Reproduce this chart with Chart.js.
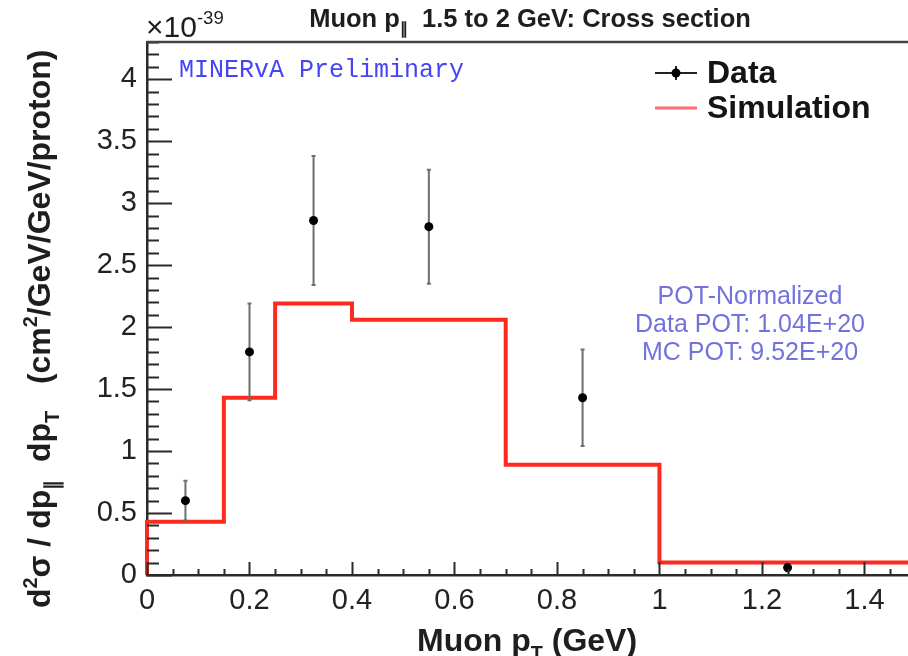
<!DOCTYPE html>
<html>
<head>
<meta charset="utf-8">
<script src="https://cdn.jsdelivr.net/npm/chart.js@4.4.0/dist/chart.umd.min.js"></script>
<style>
  html, body { margin: 0; padding: 0; background: #fff; }
  #wrap { width: 908px; height: 656px; position: relative; }
</style>
</head>
<body>
<div id="wrap"><canvas id="chart"></canvas></div>
<script>
// bin edges (GeV) and simulated cross section per bin (x1e-39)
const binEdges = [0, 0.15, 0.25, 0.4, 0.7, 1.0, 1.5];
const simValues = [0.43, 1.43, 2.19, 2.06, 0.89, 0.10];

// measured points
const dataX = [0.075, 0.2, 0.325, 0.55, 0.85, 1.25];
const dataY = [0.60, 1.80, 2.86, 2.81, 1.43, 0.06];
const dataErr = [0.16, 0.39, 0.52, 0.46, 0.39, 0.03];

const xTicks = [0, 0.2, 0.4, 0.6, 0.8, 1, 1.2, 1.4];
const yTicks = [0, 0.5, 1, 1.5, 2, 2.5, 3, 3.5, 4];
const potLines = ["POT-Normalized", "Data POT: 1.04E+20", "MC POT: 9.52E+20"];

const FONT = "'Liberation Sans', Arial, Helvetica, sans-serif";
const X_MAX = 1.485; // picture is cut just before the 1.5 edge
const Y_MAX = 4.3;

// step line through the bin edges, starting from zero at x=0
const simPoints = [{ x: binEdges[0], y: 0 }]
  .concat(simValues.map((v, i) => ({ x: binEdges[i], y: v })))
  .concat([{ x: binEdges[binEdges.length - 1], y: simValues[simValues.length - 1] }]);
const dataPoints = dataX.map((x, i) => ({ x, y: dataY[i] }));

// text with sub/superscripts: parts = [[text, mode]]
function richWidth(ctx, parts, size, weight) {
  let w = 0;
  parts.forEach(([t, m]) => {
    const s = m === "n" ? size : size * 0.62;
    ctx.font = `${weight} ${s}px ${FONT}`;
    w += ctx.measureText(t).width;
  });
  return w;
}
function drawRich(ctx, parts, x, y, size, weight) {
  parts.forEach(([t, m]) => {
    const s = m === "n" ? size : size * 0.62;
    const dy = m === "sub" ? size * 0.28 : m === "sup" ? -size * 0.42 : 0;
    ctx.font = `${weight} ${s}px ${FONT}`;
    ctx.fillText(t, x, y + dy);
    x += ctx.measureText(t).width;
  });
}

const rootFrame = {
  id: "rootFrame",
  beforeDatasetDraw(chart, args) {
    if (args.index !== 1) return;
    const { ctx, scales: { x, y } } = chart;
    ctx.save();
    ctx.strokeStyle = "#6e6e6e";
    ctx.lineWidth = 2;
    dataX.forEach((v, i) => {
      const px = x.getPixelForValue(v);
      const top = y.getPixelForValue(dataY[i] + dataErr[i]);
      const bot = y.getPixelForValue(dataY[i] - dataErr[i]);
      ctx.beginPath();
      ctx.moveTo(px, top); ctx.lineTo(px, bot);
      ctx.moveTo(px - 2, top); ctx.lineTo(px + 2, top);
      ctx.moveTo(px - 2, bot); ctx.lineTo(px + 2, bot);
      ctx.stroke();
    });
    ctx.restore();
  },
  afterDraw(chart) {
    const { ctx, chartArea: a, scales: { x, y } } = chart;
    ctx.save();
    ctx.strokeStyle = "#2a2a2a";
    ctx.lineWidth = 2;

    // inward ticks
    ctx.beginPath();
    for (let k = 0; k / 10 <= Y_MAX; k++) {
      const py = Math.round(y.getPixelForValue(k / 10)) + 0.5;
      const len = k % 5 === 0 ? 25 : 12;
      ctx.moveTo(a.left, py); ctx.lineTo(a.left + len, py);
    }
    for (let k = 0; k * 0.05 <= X_MAX; k++) {
      const px = Math.round(x.getPixelForValue(k * 0.05)) + 0.5;
      const len = k % 4 === 0 ? 13 : 6;
      ctx.moveTo(px, a.bottom); ctx.lineTo(px, a.bottom - len);
    }
    ctx.stroke();

    // top frame
    ctx.strokeStyle = "#444";
    ctx.lineWidth = 2.5;
    ctx.beginPath();
    ctx.moveTo(a.left, a.top); ctx.lineTo(a.right, a.top);
    ctx.stroke();

    ctx.fillStyle = "#1e1e1e";
    ctx.textBaseline = "alphabetic";

    // title
    const title = [["Muon p", "n"], ["\u2225", "sub"], ["  1.5 to 2 GeV: Cross section", "n"]];
    const tw = richWidth(ctx, title, 25.5, "bold");
    drawRich(ctx, title, 530 - tw / 2, 27, 25.5, "bold");

    // exponent
    drawRich(ctx, [["\u00d710", "n"], ["-39", "sup"]], 146, 37, 30, "normal");

    // x title
    drawRich(ctx, [["Muon p", "n"], ["T", "sub"], [" (GeV)", "n"]], 417, 651, 32, "bold");

    // y title
    ctx.save();
    ctx.translate(50, 608);
    ctx.rotate(-Math.PI / 2);
    drawRich(ctx, [["d", "n"], ["2", "sup"], ["\u03c3 / dp", "n"], ["\u2225", "sub"], ["  dp", "n"], ["T", "sub"],
      ["   (cm", "n"], ["2", "sup"], ["/GeV/GeV/proton)", "n"]], 0, 0, 32, "bold");
    ctx.restore();

    // MINERvA label
    ctx.fillStyle = "#4545f5";
    ctx.font = "25px 'Liberation Mono', 'DejaVu Sans Mono', monospace";
    ctx.textBaseline = "middle";
    ctx.fillText("MINERvA Preliminary", 179, 70);

    // POT box
    ctx.fillStyle = "#7272de";
    ctx.font = `25px ${FONT}`;
    ctx.textAlign = "center";
    potLines.forEach((t, i) => ctx.fillText(t, 750, 297 + i * 28));
    ctx.textAlign = "left";

    // legend
    ctx.strokeStyle = "#222";
    ctx.lineWidth = 2;
    ctx.beginPath();
    ctx.moveTo(655, 73); ctx.lineTo(697, 73);
    ctx.moveTo(676, 66); ctx.lineTo(676, 80);
    ctx.stroke();
    ctx.fillStyle = "#000";
    ctx.beginPath(); ctx.arc(676, 73, 4.5, 0, Math.PI * 2); ctx.fill();
    ctx.strokeStyle = "#ff6e6e";
    ctx.lineWidth = 3;
    ctx.beginPath(); ctx.moveTo(655, 108); ctx.lineTo(697, 108); ctx.stroke();
    ctx.fillStyle = "#141414";
    ctx.font = `bold 32px ${FONT}`;
    ctx.fillText("Data", 707, 74);
    ctx.fillText("Simulation", 707, 109);
    ctx.restore();
  }
};

new Chart(document.getElementById("chart"), {
  type: "scatter",
  data: {
    datasets: [
      {
        label: "Simulation", type: "line", data: simPoints, stepped: "before",
        borderColor: "#ff2a1f", borderWidth: 4, pointRadius: 0, fill: false, order: 2, clip: 4
      },
      {
        label: "Data", data: dataPoints, showLine: false,
        pointRadius: 4.5, pointBackgroundColor: "#000", pointBorderColor: "#000", pointBorderWidth: 0, order: 1
      }
    ]
  },
  options: {
    responsive: true, maintainAspectRatio: false, animation: false,
    layout: { autoPadding: false, padding: { top: 42, right: 0, left: 0, bottom: 0 } },
    plugins: { legend: { display: false }, tooltip: { enabled: false } },
    scales: {
      x: {
        type: "linear", min: 0, max: X_MAX,
        afterBuildTicks: (s) => { s.ticks = xTicks.map(v => ({ value: v })); },
        afterFit: (s) => { s.height = 81; s.paddingRight = 0; s.paddingLeft = 0; },
        grid: { display: false },
        border: { display: true, color: "#2a2a2a", width: 2.5 },
        ticks: { padding: 1, color: "#222", font: { family: FONT, size: 29 }, callback: v => String(v), maxRotation: 0 }
      },
      y: {
        type: "linear", min: 0, max: Y_MAX,
        afterBuildTicks: (s) => { s.ticks = yTicks.map(v => ({ value: v })); },
        afterFit: (s) => { s.width = 147; },
        grid: { display: false },
        border: { display: true, color: "#2a2a2a", width: 2.5 },
        ticks: { padding: 2, color: "#222", font: { family: FONT, size: 29 }, callback: v => String(v) }
      }
    }
  },
  plugins: [rootFrame]
});
</script>
</body>
</html>
